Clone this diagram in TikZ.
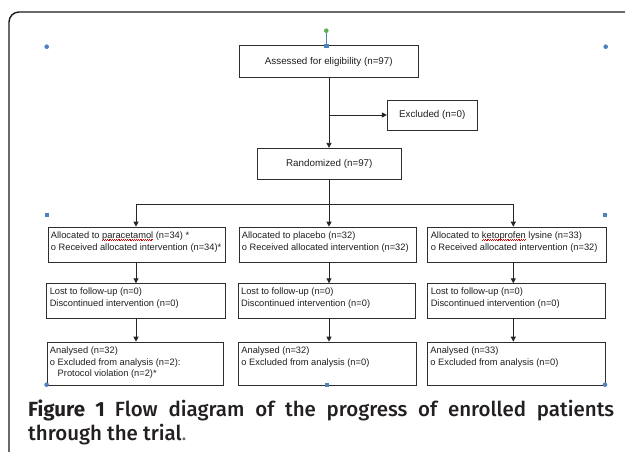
\documentclass[tikz,border=0pt]{standalone}
\usepackage{fontspec}
\setmainfont{Liberation Sans}
\newfontfamily\capbold{Fira Sans Bold}
\newfontfamily\capmed{Fira Sans Medium}
\newfontfamily\capreg{Fira Sans}
\usetikzlibrary{arrows.meta}
\definecolor{handle}{RGB}{79,129,189}
\definecolor{hgreen}{RGB}{88,178,72}
\definecolor{boxline}{RGB}{45,45,45}
\definecolor{boxtext}{RGB}{30,30,30}
\definecolor{captxt}{RGB}{35,31,32}
\newcommand\redwave[1]{\setbox0=\hbox{#1}\rlap{\raisebox{0pt}[0pt][0pt]{\hbox to \wd0{\color{red!85!black}\xleaders\hbox{\rule[-2.3pt]{0.9pt}{0.55pt}\rule[-1.6pt]{0.9pt}{0.55pt}}\hfill}}}\box0\relax}
\newcommand\flowtxt[3]{\parbox[c][#2][t]{#1}{\raggedright\leftskip=3pt\rule{0pt}{11.2pt}#3}}
\newcommand\ind{\hphantom{o }}
\tikzset{
  flowbox/.style={draw=boxline, line width=0.9pt, inner sep=0pt, anchor=north west,
    font=\fontsize{9.3}{11.8}\selectfont, text=boxtext},
  topbox/.style={draw=boxline, line width=0.9pt, inner sep=0pt,
    font=\fontsize{9.8}{12}\selectfont, text=boxtext},
  conn/.style={draw=black!85, line width=0.9pt},
  arr/.style={conn, -{Triangle[length=5pt,width=5pt]}},
  hdot/.style={circle, fill=handle, inner sep=0pt, minimum size=4.6pt},
  hsq/.style={rectangle, fill=handle, inner sep=0pt, minimum size=4.4pt},
  hgdot/.style={circle, fill=hgreen, inner sep=0pt, minimum size=4.6pt},
}
\begin{document}
\begin{tikzpicture}[x=1pt, y=-1pt]
\useasboundingbox (0,0) rectangle (625,452);
% outer frame
\draw[line width=1.4pt, black!90, rounded corners=10pt] (9,452) -- (9,12) -- (625,12);

% top boxes
\node[topbox, minimum width=179pt, minimum height=31.6pt] (assess) at (328.8,61.5) {Assessed for eligibility (n=97)};
\node[topbox, minimum width=89.7pt, minimum height=30pt] (excl) at (432.2,115) {Excluded (n=0)};
\node[topbox, minimum width=144pt, minimum height=31pt] (rand) at (329.3,163.8) {Randomized (n=97)};

% lower boxes
\node[flowbox] (L1) at (47.5,226.7) {\flowtxt{177pt}{35.3pt}{Allocated to \redwave{paracetamol} (n=34) *\\o Received allocated intervention (n=34)*}};
\node[flowbox] (M1) at (238.5,226.7) {\flowtxt{177.2pt}{35.6pt}{Allocated to placebo (n=32)\\o Received allocated intervention (n=32)}};
\node[flowbox] (R1) at (427.3,226.7) {\flowtxt{178.2pt}{35.6pt}{Allocated to \redwave{ketoprofen} lysine (n=33)\\o Received allocated intervention (n=32)}};

\node[flowbox] (L2) at (46.3,283.3) {\flowtxt{178.4pt}{34.7pt}{Lost to follow-up (n=0)\\Discontinued intervention (n=0)}};
\node[flowbox] (M2) at (237.7,283.3) {\flowtxt{177.3pt}{34.7pt}{Lost to follow-up (n=0)\\Discontinued intervention (n=0)}};
\node[flowbox] (R2) at (427.3,283.3) {\flowtxt{178pt}{34.7pt}{Lost to follow-up (n=0)\\Discontinued intervention (n=0)}};

\node[flowbox] (L3) at (46.5,341.7) {\flowtxt{176pt}{43pt}{Analysed (n=32)\\o Excluded from analysis (n=2):\\\ind Protocol violation (n=2)*}};
\node[flowbox] (M3) at (238,341.7) {\flowtxt{177.7pt}{43pt}{Analysed (n=32)\\o Excluded from analysis (n=0)}};
\node[flowbox] (R3) at (427,341.7) {\flowtxt{177.7pt}{43pt}{Analysed (n=33)\\o Excluded from analysis (n=0)}};

% connectors
\coordinate (cL) at (136,204.3);
\coordinate (cM) at (329,204.3);
\coordinate (cR) at (513.3,204.3);
\coordinate (bx) at (329,115);
\draw[arr] (assess.south -| cM) -- (rand.north -| cM);
\draw[arr] (bx) -- (excl.west);
\draw[conn] (rand.south -| cM) -- (cM);
\draw[conn] (cL) -- (cR);
\foreach \c/\a/\b/\d in {cL/L1/L2/L3, cM/M1/M2/M3, cR/R1/R2/R3}{
  \draw[arr] (\c) -- (\a.north -| \c);
  \draw[arr] (\a.south -| \c) -- (\b.north -| \c);
  \draw[arr] (\b.south -| \c) -- (\d.north -| \c);
}

% selection handles
\node[hsq] (hs1) at (326.3,46) {};
\node[hgdot] (hg) at (326.3,30.7) {};
\draw[handle, line width=0.6pt] (hg) -- (hs1);
\node[hdot] (hd1) at (46.7,46.7) {};
\node[hdot] (hd2) at (605.7,46.7) {};
\node[hdot] (hd3) at (46.6,384.7) {};
\node[hdot] (hd4) at (605,384.7) {};
\node[hsq] (hs2) at (46.7,215) {};
\node[hsq] (hs3) at (605,215) {};
\node[hsq] (hs4) at (326.8,384.7) {};

% caption
\node[anchor=base west, inner sep=0pt, text=captxt, font=\fontsize{20.5}{24}\selectfont] (cap1) at (28,416.7)
  {\makebox[586pt][s]{\capbold Figure 1 \capmed Flow diagram of the progress of enrolled patients}};
\node[anchor=base west, inner sep=0pt, text=captxt, font=\fontsize{20.5}{24}\selectfont] (cap2) at (28,440)
  {\capmed through the trial{\capreg\color{black!60}.}};
\end{tikzpicture}
\end{document}
